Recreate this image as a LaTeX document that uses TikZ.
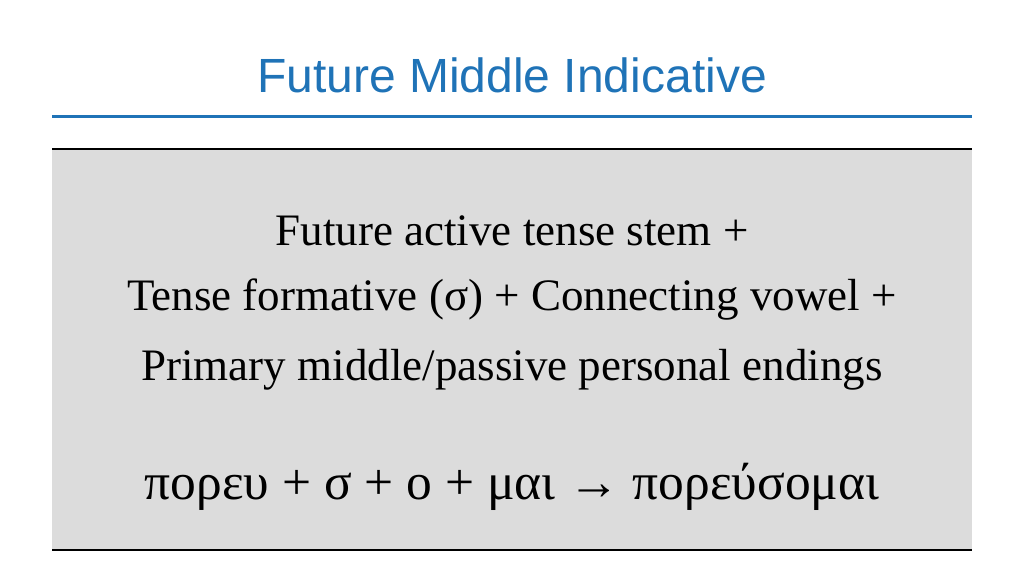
\documentclass[tikz,border=0pt]{standalone}
\usepackage{fontspec}
\setmainfont{Liberation Serif}
\newfontfamily\titlefont{Liberation Sans}
\definecolor{tblue}{HTML}{1F73B7}
\definecolor{boxgray}{HTML}{DCDCDC}
\begin{document}
\begin{tikzpicture}[x=1pt,y=-1pt,
  body/.style={font=\fontsize{45}{50}\selectfont, anchor=center, inner sep=0pt}]
\useasboundingbox (0,0) rectangle (1024,576);
\node[font=\titlefont\fontsize{48}{52}\selectfont, text=tblue] (title) at (512,75) {Future Middle Indicative};
\draw[tblue, line width=3pt] (52,116) -- (972,116);
\fill[boxgray] (52,149) rectangle (972,550);
\draw[line width=1.2pt] (52,149) -- (972,149);
\draw[line width=1.2pt] (52,550) -- (972,550);
\node[body] (l1) at (512,231) {Future active tense stem +};
\node[body] (l2) at (512,300) {Tense formative (σ) + Connecting vowel +};
\node[body] (l3) at (512,370) {Primary middle/passive personal endings};
\node[font=\fontsize{51.5}{56}\selectfont, inner sep=0pt] (l4) at (512,487) {πορευ + σ + ο + μαι → πορεύσομαι};
\end{tikzpicture}
\end{document}
